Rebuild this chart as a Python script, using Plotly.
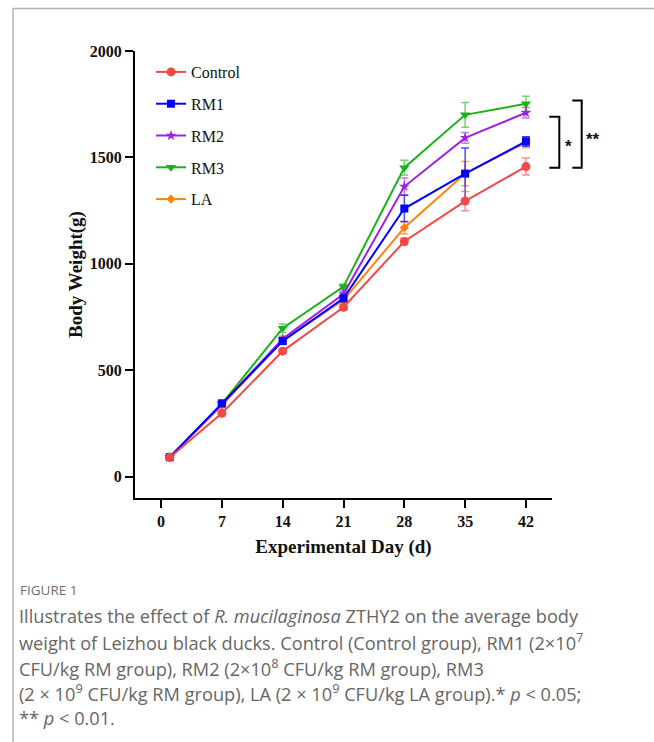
import plotly.graph_objects as go

# ---- data ----
days = [1, 7, 14, 21, 28, 35, 42]
groups = ["Control", "RM1", "RM2", "RM3", "LA"]
control = [90, 298, 590, 796, 1105, 1295, 1457]
rm1 = [92, 345, 637, 838, 1260, 1424, 1575]
rm2 = [92, 340, 648, 858, 1363, 1592, 1710]
rm3 = [92, 342, 698, 893, 1452, 1700, 1752]
la = [90, 335, 640, 830, 1170, 1424, 1570]
control_err = [5, 8, 10, 12, 15, 45, 40]
rm1_err = [5, 10, 12, 15, 62, 120, 22]
rm2_err = [5, 10, 12, 15, 40, 25, 25]
rm3_err = [5, 10, 20, 12, 35, 58, 35]
la_err = [5, 10, 12, 12, 30, 57, 25]
x_ticks = [0, 7, 14, 21, 28, 35, 42]
y_ticks = [0, 500, 1000, 1500, 2000]
sig_single = [1451, 1691]
sig_double = [1451, 1767]

W, H = 654, 742
L, R, T, B = 135, 102, 51, 244
PW, PH = W - L - R, H - T - B


def px(x):
    return (x - L) / PW


def py(y):
    return (H - B - y) / PH


styles = {
    "Control": dict(color="#F24848", ecolor="rgba(242,72,72,0.6)", symbol="circle", size=9),
    "RM1": dict(color="#0000FF", ecolor="rgba(0,0,255,0.7)", symbol="square", size=8),
    "RM2": dict(color="#A020E6", ecolor="rgba(160,32,230,0.6)", symbol="star", size=8),
    "RM3": dict(color="#17B317", ecolor="rgba(23,179,23,0.6)", symbol="triangle-down", size=9),
    "LA": dict(color="#FF820F", ecolor="rgba(255,130,15,0.7)", symbol="diamond", size=7),
}
series = {"Control": (control, control_err), "RM1": (rm1, rm1_err), "RM2": (rm2, rm2_err),
          "RM3": (rm3, rm3_err), "LA": (la, la_err)}

fig = go.Figure()
draw_order = ["LA", "RM3", "RM2", "RM1", "Control"]
for name in draw_order:
    vals, errs = series[name]
    s = styles[name]
    fig.add_trace(go.Scatter(
        x=days, y=vals, name=name, mode="lines+markers",
        legendgroup=name, legendrank=groups.index(name) + 1,
        line=dict(color=s["color"], width=2),
        marker=dict(symbol=s["symbol"], size=s["size"], color=s["color"]),
        error_y=dict(type="data", array=errs, visible=True, color=s["ecolor"], thickness=1.5, width=4),
        cliponaxis=False,
    ))

serif = "Liberation Serif, Times New Roman, serif"
fig.update_layout(
    width=W, height=H,
    margin=dict(l=L, r=R, t=T, b=B, autoexpand=False),
    paper_bgcolor="white", plot_bgcolor="white",
    showlegend=True,
    legend=dict(x=px(151), y=py(55), xanchor="left", yanchor="top",
                font=dict(family=serif, size=16, color="#111"),
                tracegroupgap=8, bgcolor="rgba(0,0,0,0)", itemwidth=30),
    xaxis=dict(range=[-3, 45], tickvals=x_ticks, showgrid=False, zeroline=False,
               showline=True, linecolor="black", linewidth=2,
               ticks="outside", ticklen=8, tickwidth=2, tickcolor="black",
               tickfont=dict(family=serif, size=16, color="#111", weight="bold"),
               title=dict(text="<b>Experimental Day (d)</b>", font=dict(family=serif, size=19, color="#111"), standoff=10)),
    yaxis=dict(range=[-100, 2000], tickvals=y_ticks, showgrid=False, zeroline=False,
               showline=True, linecolor="black", linewidth=2,
               ticks="outside", ticklen=8, tickwidth=2, tickcolor="black",
               tickfont=dict(family=serif, size=16, color="#111", weight="bold"),
               title=dict(text="<b>Body Weight(g)</b>", font=dict(family=serif, size=19, color="#111"), standoff=2)),
)

shapes = []
# significance brackets
for (lo, hi), xl, xv in [(sig_single, 549.3, 559.3), (sig_double, 572.3, 581.7)]:
    path = f"M {px(xl)} {hi} L {px(xv)} {hi} L {px(xv)} {lo} L {px(xl)} {lo}"
    shapes.append(dict(type="path", xref="paper", yref="y", path=path,
                       line=dict(color="black", width=2)))
# frame lines
shapes.append(dict(type="line", xref="paper", yref="paper", x0=px(13), x1=px(W), y0=py(8.5), y1=py(8.5),
                   line=dict(color="#b3b3b3", width=1.5)))
shapes.append(dict(type="line", xref="paper", yref="paper", x0=px(13), x1=px(13), y0=py(8.5), y1=py(H),
                   line=dict(color="#b3b3b3", width=1.5)))
fig.update_layout(shapes=shapes)

ann = []
ann.append(dict(xref="paper", yref="paper", x=px(574), y=py(135), text="<b>*</b>",
                showarrow=False, font=dict(family="Liberation Sans, Arial", size=17, color="#111")))
ann.append(dict(xref="paper", yref="paper", x=px(602), y=py(128), text="<b>**</b>",
                showarrow=False, font=dict(family="Liberation Sans, Arial", size=17, color="#111")))

cap_font = "Open Sans, Lato, sans-serif"
ann.append(dict(xref="paper", yref="paper", x=px(18), y=py(590), xanchor="left", yanchor="middle",
                text="FIGURE 1", showarrow=False, font=dict(family=cap_font, size=13.5, color="#6e6e6e")))
cap_lines = [
    "Illustrates the effect of <i>R. mucilaginosa</i> ZTHY2 on the average body",
    "weight of Leizhou black ducks. Control (Control group), RM1 (2×10<sup>7</sup>",
    "CFU/kg RM group), RM2 (2×10<sup>8</sup> CFU/kg RM group), RM3",
    "(2 × 10<sup>9</sup> CFU/kg RM group), LA (2 × 10<sup>9</sup> CFU/kg LA group).* <i>p</i> < 0.05;",
    "** <i>p</i> < 0.01.",
]
for i, t in enumerate(cap_lines):
    ann.append(dict(xref="paper", yref="paper", x=px(17), y=py(616 + 25.5 * i), xanchor="left", yanchor="middle",
                    text=t, showarrow=False, font=dict(family=cap_font, size=18.2, color="#666666")))
fig.update_layout(annotations=ann)

fig.write_html("out.html")
